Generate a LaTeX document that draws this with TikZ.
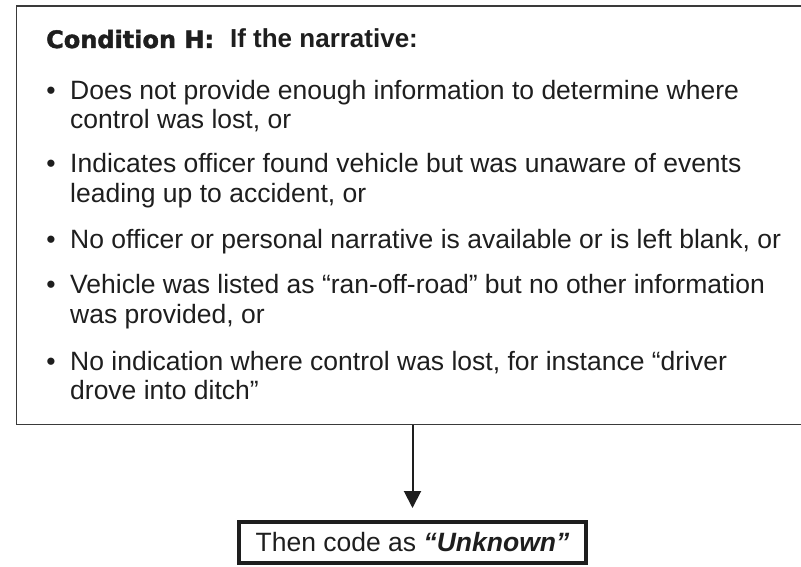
\documentclass[tikz,border=0pt]{standalone}
\usepackage{fontspec}
\setmainfont{Liberation Sans}
\newfontfamily\heavyfont{DejaVu Sans Bold}[FakeBold=1.8]
\usetikzlibrary{arrows.meta,positioning}
\definecolor{ink}{HTML}{1E1E1E}
\definecolor{frame}{HTML}{3A3A3A}
\tikzset{
  txt/.style={anchor=base west, inner sep=0pt, text=ink, font=\fontsize{26.5}{30}\selectfont},
  bullet/.style={anchor=base, inner sep=0pt, text=ink, font=\fontsize{26.5}{30}\selectfont},
}

\begin{document}
\begin{tikzpicture}[x=1pt, y=-1pt, >={Triangle[width=17pt,length=17pt]}]
\useasboundingbox (0,0) rectangle (801,567);

% condition box, runs off the right side
\node[draw=frame, line width=1.5pt, anchor=north west, minimum width=800pt, minimum height=418pt, inner sep=0pt] (cond) at (15.5,5.5) {};
\node[txt, font=\fontsize{26}{28}\selectfont\bfseries] (head) at (46,48)
  {{\heavyfont\fontsize{24}{28}\selectfont\mdseries Condition H:}\hspace{16pt}If the narrative:};

\foreach \yy in {100,173,248,293,370}
  \node[bullet] (dot\yy) at (51,\yy) {•};
\foreach \yy/\words in {100/{Does not provide enough information to determine where},
    129/{control was lost, or},
    173/{Indicates officer found vehicle but was unaware of events},
    202/{leading up to accident, or},
    248/{No officer or personal narrative is available or is left blank, or},
    293/{Vehicle was listed as “ran-off-road” but no other information},
    323/{was provided, or},
    370/{No indication where control was lost, for instance “driver},
    399/{drove into ditch”}}
  \node[txt] (line\yy) at (70,\yy) {\words};

% result
\node[draw=ink, line width=4pt, minimum width=347pt, minimum height=41pt, inner sep=0pt, text=ink,
      font=\fontsize{26.5}{30}\selectfont] (out) at (412.5,542.5) {Then code as \textbf{\textit{“Unknown”}}};

\draw[->, line width=2pt, ink, shorten >=12pt] (out.north |- cond.south) -- (out.north);
\end{tikzpicture}
\end{document}
